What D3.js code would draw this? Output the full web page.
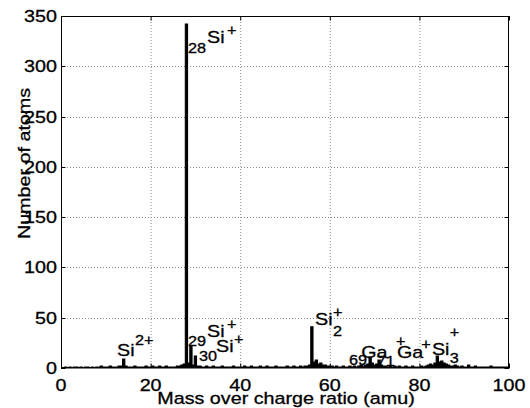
<!DOCTYPE html>
<html>
<head>
<meta charset="utf-8">
<script src="https://cdn.jsdelivr.net/npm/d3@7"></script>
<style>
  html, body { margin: 0; padding: 0; background: #fff; }
  svg { display: block; }
  text { font-family: "Liberation Sans", Arial, Helvetica, sans-serif; fill: #000; stroke: #000; stroke-width: 0.3px; }
</style>
</head>
<body>
<svg id="chart" width="530" height="408"></svg>
<script>
// ---- data ----
const binStart = 0;
const binWidth = 0.5;
// counts per 0.5 amu bin, from 0 to 100 amu
const counts = [
  0,0,1,0,1,0,1,1,0,1,
  0,1,1,0,1,0,1,1,2,1,
  1,1,2,1,1,1,2,2,9,2,
  1,1,1,2,1,1,1,1,2,1,
  1,2,1,1,2,1,1,2,1,1,
  1,1,2,2,3,4,342,5,22,3,
  12,2,2,1,1,2,1,1,2,1,
  1,1,2,1,1,1,1,2,1,1,
  1,1,2,1,1,2,1,1,1,2,
  1,1,2,1,1,1,2,1,1,1,
  1,2,1,1,2,1,1,2,1,2,
  2,3,41,6,8,4,5,3,3,2,
  2,2,1,2,1,1,2,1,1,2,
  1,2,1,2,3,2,3,4,11,5,
  3,4,8,3,2,2,1,2,1,2,
  1,2,1,1,2,1,1,2,1,1,
  1,2,1,2,3,4,3,5,12,6,
  7,5,4,3,2,2,3,2,1,2,
  1,1,3,1,1,2,1,1,1,1,
  1,1,2,1,1,1,1,1,1,1,
  1
];
const xTicks = [0, 20, 40, 60, 80, 100];
const yTicks = [0, 50, 100, 150, 200, 250, 300, 350];
const xLabel = "Mass over charge ratio (amu)";
const yLabel = "Number of atoms";
// peak annotations: text piece, anchor in data coords (mass, count), kind
const annText = ["28","Si","+", "Si","2+", "29","Si","+", "30","Si","+", "Si","+","2", "69","Ga","71","+","Ga","+", "Si","+","3"];
const annMass = [28.35,32.6,37.05, 12.5,16.5, 28.35,32.6,37.05, 30.8,34.6,38.6, 56.7,60.7,60.7, 64.3,67.0,70.5,74.8,75.0,80.4, 82.8,86.8,86.8];
const annCount = [313,323.2,331.1, 11.9,22.9, 21.9,30.8,38.8, 7.0,15.9,23.9, 42.8,50.7,31.8, 3.0,9.9,2.0,21.9,9.9,18.9, 12.9,30.8,5.0];
const annKind = ["s","m","s", "m","s", "s","m","s", "s","m","s", "m","s","s", "s","m","s","s","m","s", "m","s","s"];

// ---- layout ----
const svg = d3.select("#chart");
const L = 61, R = 509, T = 16, B = 368;
const x = d3.scaleLinear().domain([0, 100]).range([L, R]);
const y = d3.scaleLinear().domain([0, 350]).range([B, T]);
const SX = 1.16; // horizontal glyph stretch
const mainSize = 17, smallSize = 14;

function txt(g, str, px, py, size, anchor, rot) {
  const t = g.append("text")
    .attr("transform", `translate(${px},${py})` + (rot ? ` rotate(${rot})` : "") + ` scale(${SX},1)`)
    .attr("font-size", size)
    .attr("text-anchor", anchor || "start")
    .text(str);
  return t;
}

// grid
const grid = svg.append("g").attr("stroke", "#8a8a8a").attr("stroke-width", 1)
  .attr("stroke-dasharray", "1,2").attr("fill", "none");
xTicks.slice(1, -1).forEach(v => {
  grid.append("line").attr("x1", x(v) + 0.5).attr("x2", x(v) + 0.5).attr("y1", T).attr("y2", B);
});
yTicks.slice(1, -1).forEach(v => {
  grid.append("line").attr("x1", L).attr("x2", R).attr("y1", Math.round(y(v)) + 0.5).attr("y2", Math.round(y(v)) + 0.5);
});

// spectrum (filled step histogram)
const pts = counts.map((c, i) => [binStart + i * binWidth, c]);
svg.append("path")
  .datum(pts)
  .attr("fill", "#000")
  .attr("stroke", "#000")
  .attr("stroke-width", 1.1)
  .attr("d", d3.area().curve(d3.curveStep).x(d => x(d[0])).y0(y(0)).y1(d => y(d[1])));

// box and ticks
const ax = svg.append("g").attr("stroke", "#000").attr("stroke-width", 1).attr("fill", "none");
ax.append("rect").attr("x", L + 0.5).attr("y", T + 0.5).attr("width", R - L - 1).attr("height", B - T - 1);
const tl = 4.5;
xTicks.forEach(v => {
  const px = x(v) + 0.5;
  ax.append("line").attr("x1", px).attr("x2", px).attr("y1", B).attr("y2", B - tl);
  ax.append("line").attr("x1", px).attr("x2", px).attr("y1", T).attr("y2", T + tl);
});
yTicks.forEach(v => {
  const py = Math.round(y(v)) + 0.5;
  ax.append("line").attr("x1", L).attr("x2", L + tl).attr("y1", py).attr("y2", py);
  ax.append("line").attr("x1", R).attr("x2", R - tl).attr("y1", py).attr("y2", py);
});

// tick labels
const lab = svg.append("g");
xTicks.forEach(v => txt(lab, String(v), x(v), 391, mainSize, "middle"));
yTicks.forEach(v => txt(lab, String(v), 57, y(v) + 6, mainSize, "end"));

// axis labels
txt(lab, xLabel, 286, 404, mainSize, "middle");
txt(lab, yLabel, 30, 163.5, mainSize, "middle", -90);

// annotations
const ann = svg.append("g");
annText.forEach((s, i) => {
  txt(ann, s, x(annMass[i]), y(annCount[i]), annKind[i] === "m" ? mainSize : smallSize, "start");
});
</script>
</body>
</html>
